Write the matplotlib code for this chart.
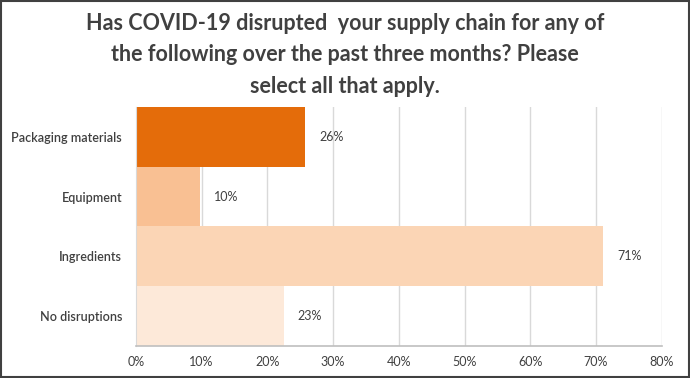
import matplotlib.pyplot as plt
from matplotlib.patches import Rectangle
from matplotlib.ticker import PercentFormatter

# survey answers, top to bottom
categories = ["Packaging materials", "Equipment", "Ingredients", "No disruptions"]
shares = [25.8, 9.7, 71.1, 22.5]
value_labels = ["26%", "10%", "71%", "23%"]
bar_colors = ["#E46C0A", "#F9C093", "#FBD5B5", "#FDE9D9"]

title = ("Has COVID-19 disrupted  your supply chain for any of\n"
         "the following over the past three months? Please\n"
         "select all that apply.")

plt.rcParams["font.family"] = ["Lato", "DejaVu Sans"]

fig = plt.figure(figsize=(6.9, 3.78), dpi=100)
ax = fig.add_axes([0.197, 0.085, 0.762, 0.632])

pos = list(range(len(categories)))
ax.barh(pos, shares, height=1.0, color=bar_colors, zorder=2)
ax.set_ylim(len(categories) - 0.5, -0.5)
ax.set_xlim(0, 80)
ax.set_xticks(range(0, 81, 10))
ax.xaxis.set_major_formatter(PercentFormatter(decimals=0))
ax.set_yticks(pos)
ax.set_yticklabels(categories, fontweight="semibold")

# value labels right of each bar
for p, v, lab in zip(pos, shares, value_labels):
    ax.annotate(lab, (v, p), xytext=(10, 0), textcoords="offset points",
                va="center", ha="left", fontsize=9, color="#404040")

ax.grid(axis="x", color="#D9D9D9", linewidth=1, zorder=0)
for s in ["top", "right"]:
    ax.spines[s].set_visible(False)
ax.spines["bottom"].set_color("#BFBFBF")
ax.spines["bottom"].set_linewidth(1.2)
ax.spines["left"].set_color("#D9D9D9")
ax.tick_params(axis="both", length=0, labelsize=9, labelcolor="#404040")
ax.tick_params(axis="x", pad=7)
ax.tick_params(axis="y", pad=10)

fig.text(0.5, 0.966, title, ha="center", va="top", fontsize=15.5,
         fontweight="bold", color="#404040", linespacing=1.62)

# dark frame around the whole chart
fig.patches.append(Rectangle((0.002, 0.003), 0.996, 0.994, transform=fig.transFigure,
                             fill=False, edgecolor="#404040", linewidth=1.5))

fig.savefig("out.png", dpi=100)
